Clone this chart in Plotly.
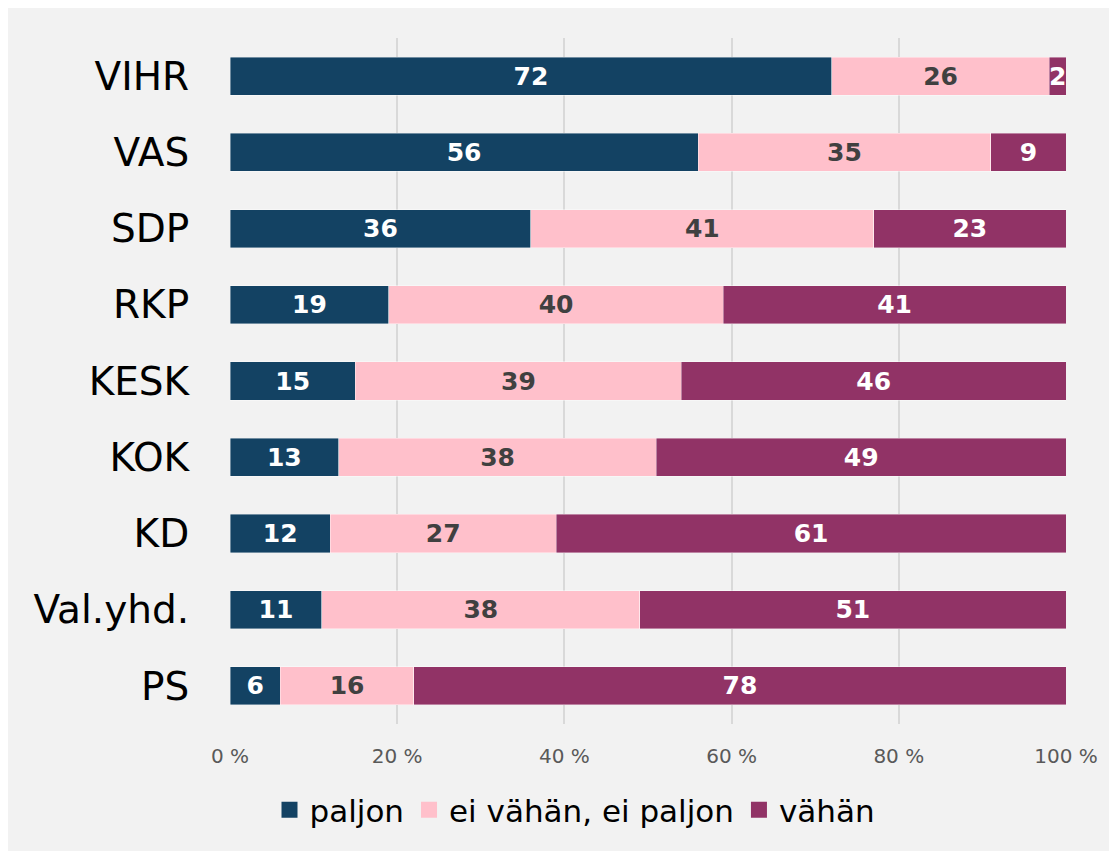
import plotly.graph_objects as go

categories = ["VIHR", "VAS", "SDP", "RKP", "KESK", "KOK", "KD", "Val.yhd.", "PS"]
paljon = [72, 56, 36, 19, 15, 13, 12, 11, 6]
ei_vahan_ei_paljon = [26, 35, 41, 40, 39, 38, 27, 38, 16]
vahan = [2, 9, 23, 41, 46, 49, 61, 51, 78]
series_names = ["paljon", "ei vähän, ei paljon", "vähän"]
tick_vals = [0, 20, 40, 60, 80, 100]
tick_text = ["0 %", "20 %", "40 %", "60 %", "80 %", "100 %"]

colors = ["#134263", "#ffc0cb", "#913366"]
text_colors = ["#ffffff", "#404040", "#ffffff"]

W, H = 1109, 843
L, R, T, B = 222, 51, 30, 127
pw, ph = W - L - R, H - T - B

fig = go.Figure()
for name, vals, c, tc in zip(series_names, [paljon, ei_vahan_ei_paljon, vahan], colors, text_colors):
    fig.add_trace(go.Bar(
        y=categories, x=vals, name=name, orientation="h", showlegend=False,
        marker=dict(color=c, line=dict(color="rgba(255,255,255,0.5)", width=0.8)),
        text=vals, texttemplate="%{text}", textposition="inside",
        insidetextanchor="middle", textangle=0,
        textfont=dict(family="DejaVu Sans", size=25, color=tc, weight="bold"),
    ))

# legend entries with larger square swatches
for name, c in zip(series_names, colors):
    fig.add_trace(go.Scatter(
        x=[None], y=[None], mode="markers", name=name,
        marker=dict(symbol="square", size=17, color=c),
        showlegend=True, hoverinfo="skip",
    ))

fig.update_layout(
    width=W, height=H,
    margin=dict(l=L, r=R, t=T, b=B, pad=0),
    barmode="stack", bargap=0.5,
    paper_bgcolor="#f2f2f2", plot_bgcolor="#f2f2f2",
    uniformtext=dict(minsize=25, mode="show"),
    showlegend=True,
    legend=dict(orientation="h", x=(567 - L) / pw, xanchor="center",
                y=(T + ph - 802) / ph, yanchor="middle",
                traceorder="normal",
                font=dict(family="DejaVu Sans", size=31, color="#000000"),
                bgcolor="rgba(0,0,0,0)", itemwidth=30),
    xaxis=dict(range=[0, 100], tickvals=tick_vals, ticktext=tick_text,
               showgrid=True, gridcolor="#d9d9d9", gridwidth=1.5,
               zeroline=False, showline=False,
               ticks="outside", ticklen=14, tickcolor="rgba(0,0,0,0)",
               tickfont=dict(family="DejaVu Sans", size=20, color="#595959")),
    yaxis=dict(autorange="reversed", showgrid=False, zeroline=False,
               ticks="outside", ticklen=32, tickcolor="rgba(0,0,0,0)",
               tickfont=dict(family="DejaVu Sans", size=39, color="#000000")),
)

fig.write_html("out.html")
